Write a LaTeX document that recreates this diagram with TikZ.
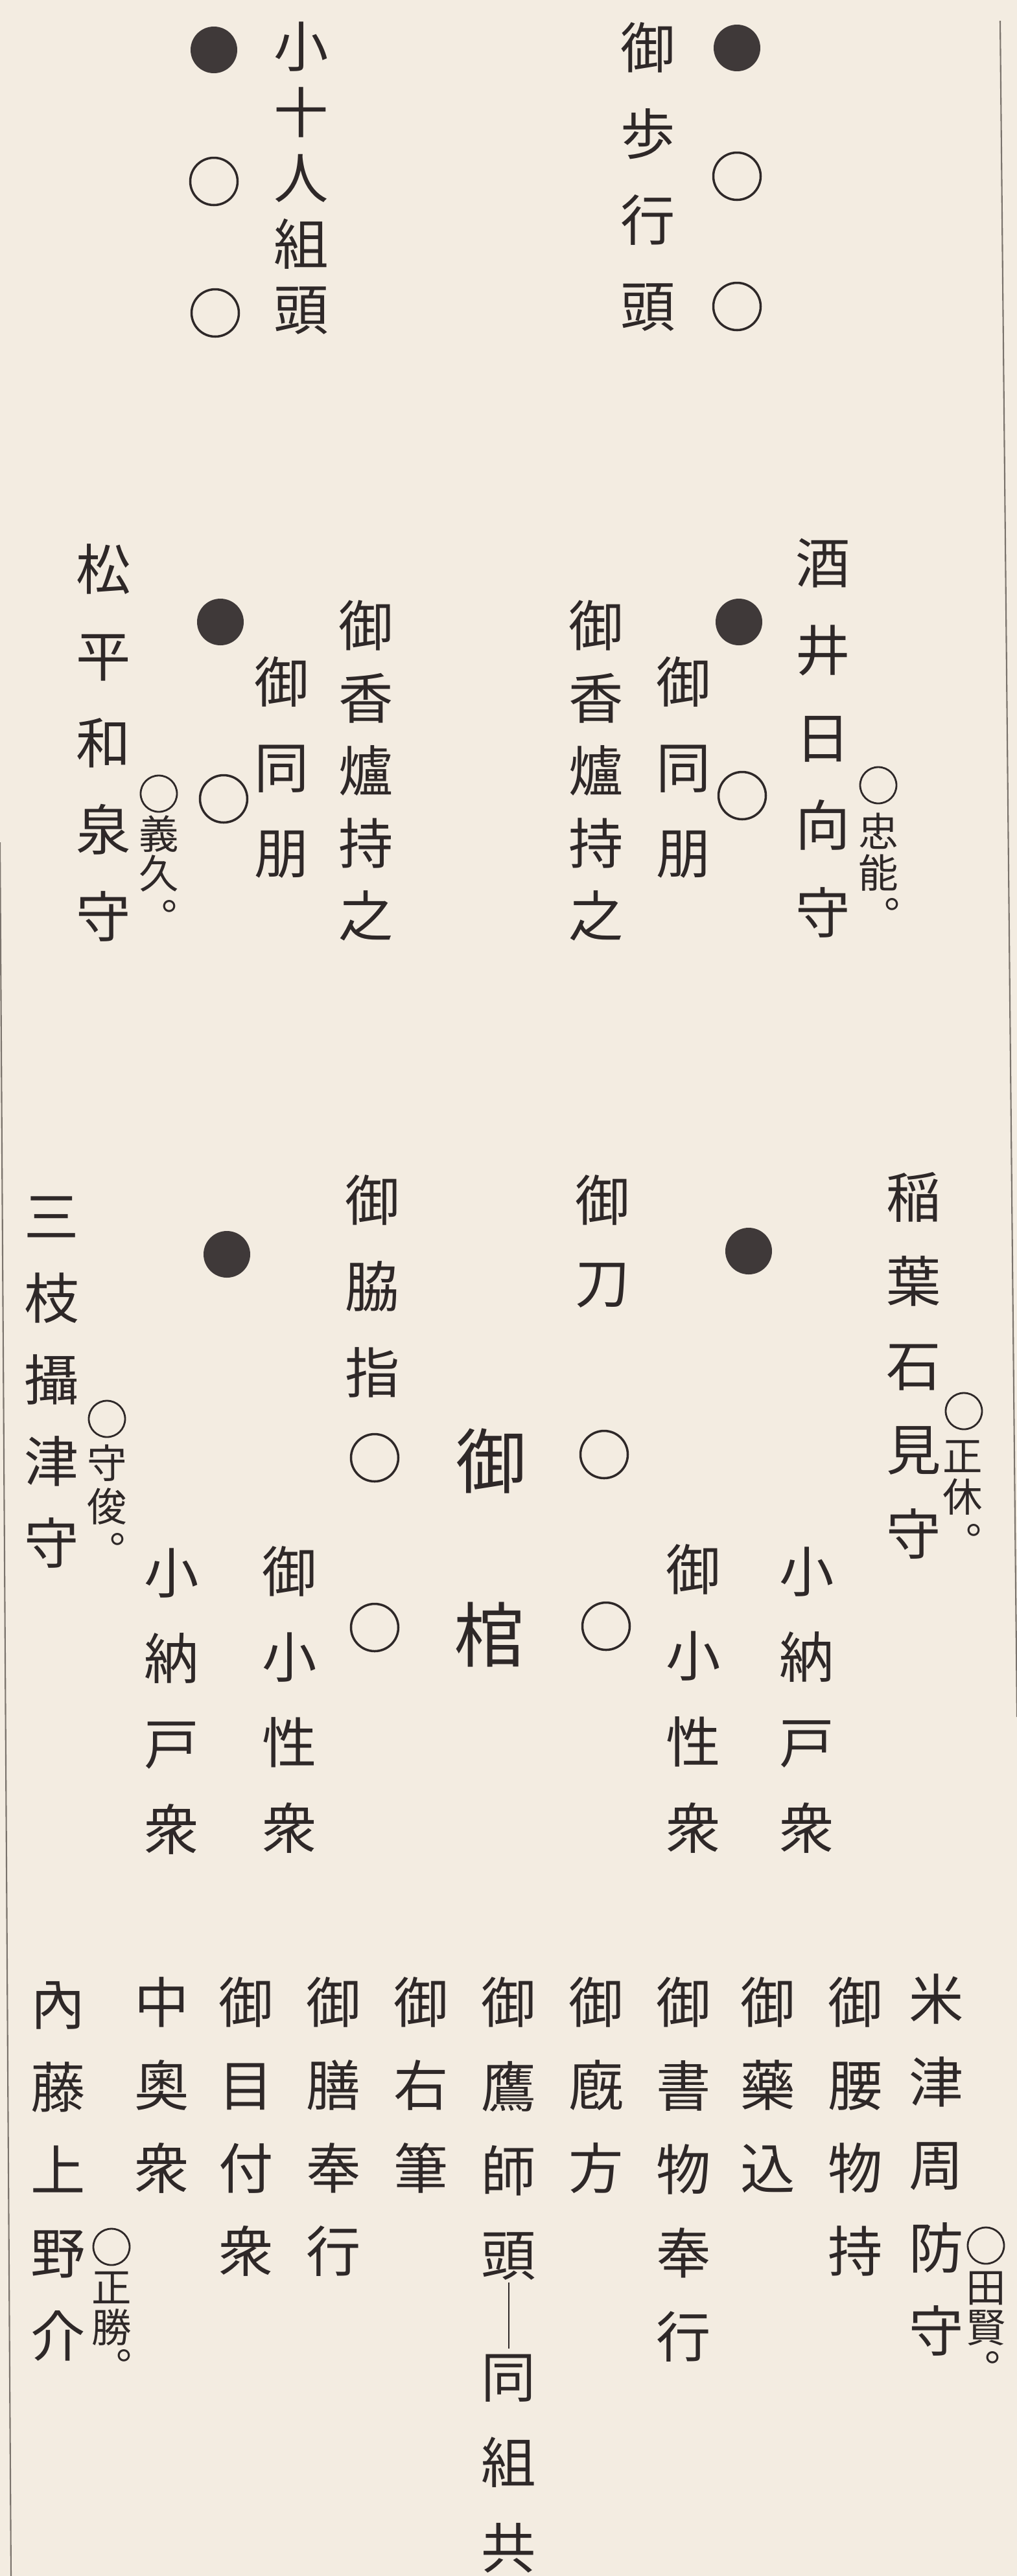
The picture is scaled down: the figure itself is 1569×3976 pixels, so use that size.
\documentclass[tikz,border=0pt]{standalone}
\usepackage{fontspec}
\newfontfamily\jp{Noto Sans CJK JP}
\definecolor{paper}{HTML}{F3ECE1}
\definecolor{ink}{HTML}{2E2828}
\definecolor{rulec}{HTML}{7A736C}
\tikzset{
  ch/.style={inner sep=0pt, text=ink, font=\jp\fontsize{24}{24}\selectfont, text height=21.1pt, text depth=2.9pt},
  chs/.style={inner sep=0pt, text=ink, font=\jp\fontsize{17.5}{17.5}\selectfont, text height=15.4pt, text depth=2.1pt},
  punct/.style={inner sep=0pt, text=ink, font=\jp\fontsize{17.5}{17.5}\selectfont, text height=4.4pt, text depth=1.8pt},
  chb/.style={inner sep=0pt, text=ink, font=\jp\fontsize{31}{31}\selectfont, text height=27.3pt, text depth=3.7pt},
  ring/.style={circle, draw=ink, line width=1pt, minimum size=7.3mm, inner sep=0pt},
  ringsm/.style={circle, draw=ink, line width=0.8pt, minimum size=5.6mm, inner sep=0pt},
  dot/.style={circle, fill=ink!92, minimum size=7.2mm, inner sep=0pt},
  border/.style={draw=rulec, line width=0.6pt},
}
\newcommand\vcol[6]{%
  \foreach \vch [count=\vi] in {#6} {\node[#2] (#1-\vi) at (#3, {#4+(\vi-1)*#5}) {\vch};}}
\newcommand\maru{\makebox[7pt][l]{。}}
\begin{document}
\begin{tikzpicture}[x=0.1mm, y=-0.1mm]
\fill[paper] (0,0) rectangle (1569,3976);
\useasboundingbox (0,0) rectangle (1569,3976);
% page rules
\coordinate (rt) at (1543,32);
\coordinate (rb) at (1569,2650);
\coordinate (lt) at (0,1300);
\coordinate (lb) at (17,3976);
\draw[border] (rt) -- (rb);
\draw[border] (lt) -- (lb);

% ---- top ----
\node[dot] (dTL) at (330,77) {};
\node[ring] (cTL1) at (330,280) {};
\node[ring] (cTL2) at (332,483) {};
\vcol{kojunin}{ch}{465}{72}{101.5}{小,十,人,組,頭}
\vcol{okachi}{ch}{1000}{74}{133}{御,歩,行,頭}
\node[dot] (dTR) at (1137,74) {};
\node[ring] (cTR1) at (1137,272) {};
\node[ring] (cTR2) at (1137,473) {};

% ---- middle ----
\vcol{sakai}{ch}{1270}{868}{135}{酒,井,日,向,守}
\node[ringsm] (sakaiO) at (1355,1212) {};
\node[chs] (sakaiA) at (1355,1283) {忠};
\node[chs] (sakaiB) at (1355,1347) {能};
\node[punct] (sakaiP) at (1377,1397) {\maru};
\node[dot] (dMR) at (1140,960) {};
\node[ring] (cMR) at (1145,1228) {};
\vcol{dobo1}{ch}{1055}{1052}{132}{御,同,朋}
\vcol{koro1}{ch}{920}{965}{112}{御,香,爐,持,之}
\vcol{koro2}{ch}{565}{965}{112}{御,香,爐,持,之}
\vcol{dobo2}{ch}{435}{1052}{132}{御,同,朋}
\node[dot] (dML) at (340,960) {};
\node[ring] (cML) at (345,1233) {};
\vcol{matsu}{ch}{160}{878}{134}{松,平,和,泉,守}
\node[ringsm] (matsuO) at (245,1225) {};
\node[chs] (matsuA) at (245,1287) {義};
\node[chs] (matsuB) at (245,1348) {久};
\node[punct] (matsuP) at (262,1400) {\maru};

% ---- third ----
\vcol{inaba}{ch}{1410}{1847}{130}{稲,葉,石,見,守}
\node[ringsm] (inabaO) at (1487,2178) {};
\node[chs] (inabaA) at (1485,2247) {正};
\node[chs] (inabaB) at (1485,2310) {休};
\node[punct] (inabaP) at (1503,2363) {\maru};
\node[dot] (d3R) at (1155,1931) {};
\vcol{katana}{ch}{930}{1852}{127}{御,刀}
\node[ring] (c3R) at (932,2245) {};
\node[chb] (big1) at (758,2255) {御};
\node[chb] (big2) at (755,2523) {棺};
\vcol{waki}{ch}{575}{1852}{133}{御,脇,指}
\node[ring] (c3L) at (578,2250) {};
\node[dot] (d3L) at (350,1936) {};
\vcol{saegusa}{ch}{80}{1877}{126}{三,枝,攝,津,守}
\node[ringsm] (saeO) at (165,2190) {};
\node[chs] (saeA) at (165,2258) {守};
\node[chs] (saeB) at (165,2325) {俊};
\node[punct] (saeP) at (182,2377) {\maru};

% ---- fourth ----
\vcol{nando1}{ch}{1245}{2425}{132}{小,納,戸,衆}
\vcol{kosho1}{ch}{1070}{2422}{133}{御,小,性,衆}
\node[ring] (c4R) at (935,2510) {};
\node[ring] (c4L) at (578,2512) {};
\vcol{kosho2}{ch}{447}{2425}{132}{御,小,性,衆}
\vcol{nando2}{ch}{265}{2427}{132}{小,納,戸,衆}

% ---- bottom ----
\vcol{yonezu}{ch}{1445}{3085}{128}{米,津,周,防,守}
\node[ringsm] (yoneO) at (1521,3466) {};
\node[chs] (yoneA) at (1521,3530) {田};
\node[chs] (yoneB) at (1521,3592) {賢};
\node[punct] (yoneP) at (1532,3640) {\maru};
\vcol{koshi}{ch}{1320}{3090}{128}{御,腰,物,持}
\vcol{kusuri}{ch}{1185}{3090}{128}{御,藥,込}
\vcol{shomotsu}{ch}{1055}{3090}{129}{御,書,物,奉,行}
\vcol{umaya}{ch}{920}{3090}{128}{御,廐,方}
\vcol{taka}{ch}{785}{3090}{130}{御,鷹,師,頭}
\vcol{takab}{ch}{785}{3668}{132}{同,組,共}
\draw[ink, line width=0.7pt] (taka-4.south) -- (takab-1.north);
\vcol{yuhitsu}{ch}{650}{3090}{128}{御,右,筆}
\vcol{zen}{ch}{515}{3090}{128}{御,膳,奉,行}
\vcol{metsuke}{ch}{380}{3090}{128}{御,目,付,衆}
\vcol{nakaoku}{ch}{250}{3090}{128}{中,奧,衆}
\vcol{naito}{ch}{90}{3093}{128}{內,藤,上,野,介}
\node[ringsm] (naitoO) at (172,3468) {};
\node[chs] (naitoA) at (172,3530) {正};
\node[chs] (naitoB) at (172,3592) {勝};
\node[punct] (naitoP) at (192,3637) {\maru};
\end{tikzpicture}
\end{document}
